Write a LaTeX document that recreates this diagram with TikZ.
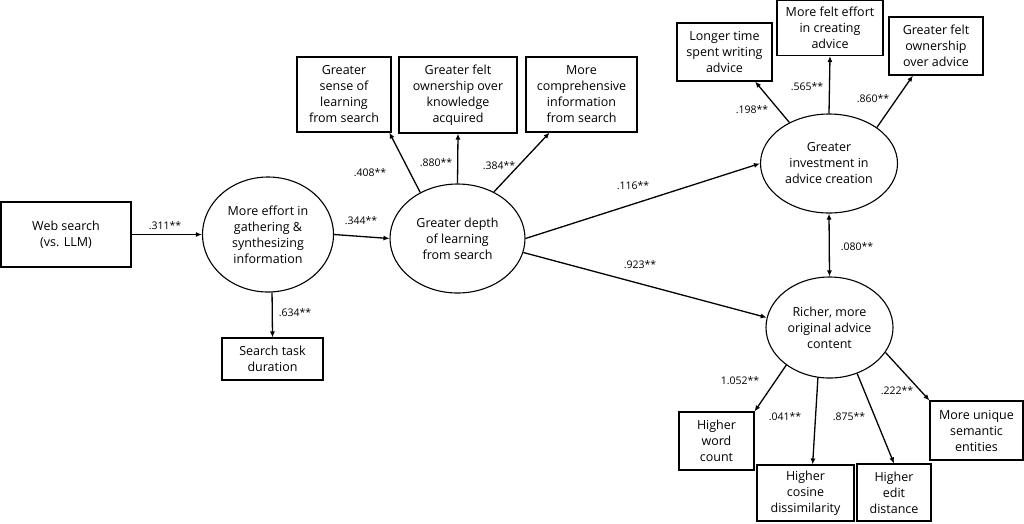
\documentclass[tikz,border=0pt]{standalone}
\usepackage{fontspec}
\setmainfont{Open Sans}
\usetikzlibrary{shapes.geometric,arrows.meta}
\begin{document}
\begin{tikzpicture}[x=1pt,y=-1pt,
  box/.style={draw,line width=1.1pt,rectangle,inner sep=0pt,align=center,font=\fontsize{12.5}{16}\selectfont},
  lat/.style={draw,line width=1.1pt,ellipse,inner sep=0pt,align=center,font=\fontsize{12.5}{16}\selectfont},
  arr/.style={line width=1.3pt,-{Latex[length=6pt,width=5pt]}},
  darr/.style={line width=1.3pt,{Latex[length=6pt,width=5pt]}-{Latex[length=6pt,width=5pt]}},
  lbl/.style={font=\fontsize{10.5}{12}\selectfont,inner sep=0pt}]
\useasboundingbox[fill=white] (0,0) rectangle (1024,523);
% nodes
\node[box,minimum width=130pt,minimum height=65pt] (web) at (66,234.5) {Web search\\(vs. LLM)};
\node[lat,minimum width=131pt,minimum height=115pt] (e1) at (268,234.5) {More effort in\\gathering \&\\synthesizing\\information};
\node[box,minimum width=101pt,minimum height=42pt] (st) at (272.5,359) {Search task\\duration};
\node[lat,minimum width=135pt,minimum height=109pt] (e2) at (457.5,238.5) {Greater depth\\of learning\\from search};
\node[box,minimum width=94pt,minimum height=75pt] (sl) at (344,94.5) {Greater\\sense of\\learning\\from search};
\node[box,minimum width=118pt,minimum height=76pt] (ok) at (458,95) {Greater felt\\ownership over\\knowledge\\acquired};
\node[box,minimum width=111pt,minimum height=75pt] (ci) at (581.5,94.5) {More\\comprehensive\\information\\from search};
\node[lat,minimum width=137pt,minimum height=99pt] (e3) at (829,163.5) {Greater\\investment in\\advice creation};
\node[box,minimum width=95pt,minimum height=58pt] (lt) at (724.5,52) {Longer time\\spent writing\\advice};
\node[box,minimum width=106pt,minimum height=55pt] (mfe) at (830,28) {More felt effort\\in creating\\advice};
\node[box,minimum width=94pt,minimum height=58pt] (gfo) at (936,46) {Greater felt\\ownership\\over advice};
\node[lat,minimum width=127pt,minimum height=101pt] (e4) at (829.5,327.5) {Richer, more\\original advice\\content};
\node[box,minimum width=75pt,minimum height=58pt] (wc) at (716.5,441) {Higher\\word\\count};
\node[box,minimum width=97pt,minimum height=56pt] (cs) at (805.5,493) {Higher\\cosine\\dissimilarity};
\node[box,minimum width=74pt,minimum height=57pt] (ed) at (894,492.5) {Higher\\edit\\distance};
\node[box,minimum width=93pt,minimum height=59pt] (mu) at (976.5,430.5) {More unique\\semantic\\entities};
% connectors
\draw[arr] (web.east) -- (e1.west);
\draw[arr] (e1.-86) -- (st.north);
\draw[arr] (e1.east) -- (e2.west);
\draw[arr] (e2.129) -- (sl.-40);
\draw[arr] (e2.north) -- (ok.south);
\draw[arr] (e2.52) -- (ci.-130);
\draw[arr] (e2.east) -- (e3.west);
\draw[arr] (e2.-12) -- (e4.171);
\draw[arr] (e3.134) -- (lt.-44);
\draw[arr] (e3.north) -- (mfe.south);
\draw[arr] (e3.37) -- (gfo.-128);
\draw[darr] (e3.south) -- (e4.north);
\draw[arr] (e4.-139) -- (wc.north east);
\draw[arr] (e4.-103) -- (cs.76);
\draw[arr] (e4.-59) -- (ed.north);
\draw[arr] (e4.-24) -- (mu.north west);
% labels
\node[lbl] (l1) at (165,226) {.311**};
\node[lbl] (l2) at (295,313) {.634**};
\node[lbl] (l3) at (361,221) {.344**};
\node[lbl] (l4) at (370,173) {.408**};
\node[lbl] (l5) at (436,163) {.880**};
\node[lbl] (l6) at (499,166) {.384**};
\node[lbl] (l7) at (633,186) {.116**};
\node[lbl] (l8) at (640,265) {.923**};
\node[lbl] (l9) at (752,110) {.198**};
\node[lbl] (l10) at (807,87) {.565**};
\node[lbl] (l11) at (873,99) {.860**};
\node[lbl] (l12) at (857,247) {.080**};
\node[lbl] (l13) at (740,381) {1.052**};
\node[lbl] (l14) at (785,417) {.041**};
\node[lbl] (l15) at (849,417) {.875**};
\node[lbl] (l16) at (897,391) {.222**};
\end{tikzpicture}
\end{document}
